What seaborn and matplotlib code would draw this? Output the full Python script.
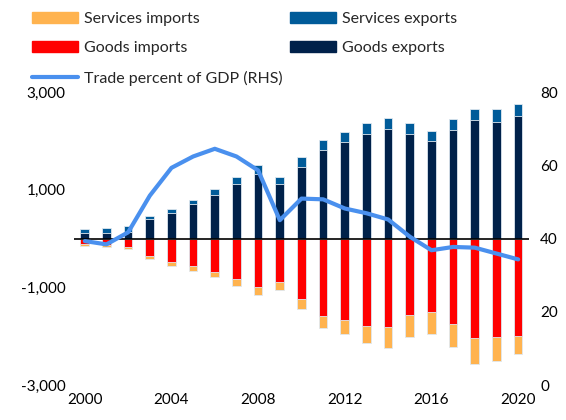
import numpy as np
import pandas as pd
import matplotlib
matplotlib.use("Agg")
import matplotlib.pyplot as plt
import seaborn as sns
from matplotlib.patches import Patch
from matplotlib.lines import Line2D

years = [str(y) for y in range(2000, 2021)]
goods_exports = [110, 123, 143, 397, 532, 704, 901, 1126, 1324, 1126, 1474,
                 1822, 1986, 2149, 2252, 2149, 2006, 2231, 2424, 2395, 2518]
services_exports = [82, 90, 117, 61, 82, 82, 110, 137, 178, 143, 198,
                    198, 198, 219, 219, 226, 205, 213, 237, 254, 229]
goods_imports = [-117, -137, -172, -356, -485, -567, -690, -833, -997, -895, -1243,
                 -1590, -1672, -1795, -1815, -1576, -1508, -1754, -2047, -2015, -2000]
services_imports = [-41, -35, -41, -62, -68, -88, -102, -130, -157, -157, -204,
                    -246, -280, -342, -437, -439, -451, -471, -532, -496, -375]
trade_pct_gdp = [39.3, 38.4, 41.7, 51.7, 59.3, 62.4, 64.5, 62.4, 58.6, 45.0, 50.9,
                 50.7, 48.2, 46.9, 45.2, 40.5, 36.8, 37.7, 37.5, 35.9, 34.3]

C_SERV_IMP = "#FFB34F"
C_GOODS_IMP = "#FF0000"
C_SERV_EXP = "#005B99"
C_GOODS_EXP = "#00214A"
C_LINE = "#4A90EE"

sns.set_theme(style="white")
plt.rcParams["font.family"] = ["Lato", "DejaVu Sans"]

df = pd.DataFrame({
    "year": years,
    "exp_total": np.array(goods_exports) + np.array(services_exports),
    "goods_exp": goods_exports,
    "imp_total": np.array(goods_imports) + np.array(services_imports),
    "goods_imp": goods_imports,
})

fig = plt.figure(figsize=(5.66, 4.2), dpi=100)
ax = fig.add_axes([0.1307, 0.0833, 0.8039, 0.6976])

# stacked bars: totals first, goods drawn over them
bar_kw = dict(width=0.4, edgecolor="#dfe8f0", linewidth=0.6, ax=ax)
sns.barplot(data=df, x="year", y="exp_total", color=C_SERV_EXP, saturation=1, **bar_kw)
sns.barplot(data=df, x="year", y="goods_exp", color=C_GOODS_EXP, saturation=1, **bar_kw)
sns.barplot(data=df, x="year", y="imp_total", color=C_SERV_IMP, saturation=1, **bar_kw)
sns.barplot(data=df, x="year", y="goods_imp", color=C_GOODS_IMP, saturation=1, **bar_kw)

ax.axhline(0, color="black", linewidth=1.2, zorder=3)
ax.set_xlim(-0.5, len(years) - 0.5)
ax.set_ylim(-3000, 3000)
ax.set_yticks([-3000, -1000, 1000, 3000])
ax.set_yticklabels([f"{v:,}" for v in [-3000, -1000, 1000, 3000]])
ax.set_xticks(range(0, len(years), 4))
ax.set_xticklabels(years[::4])
ax.set_xlabel("")
ax.set_ylabel("")
for s in ax.spines.values():
    s.set_visible(False)
ax.tick_params(axis="both", length=0, labelsize=11, colors="black", pad=6)

ax2 = ax.twinx()
sns.lineplot(x=np.arange(len(years)), y=trade_pct_gdp, ax=ax2, color=C_LINE,
             linewidth=3, solid_joinstyle="round", solid_capstyle="round")
ax2.set_ylim(0, 80)
ax2.set_yticks([0, 20, 40, 60, 80])
for s in ax2.spines.values():
    s.set_visible(False)
ax2.tick_params(axis="y", length=0, labelsize=11, colors="black", pad=8)
ax2.set_xlim(-0.5, len(years) - 0.5)

leg_kw = dict(loc="upper left", frameon=False, fontsize=11.5, handlelength=2.9,
              handleheight=0.7, labelspacing=0.95, handletextpad=0.35,
              borderpad=0, borderaxespad=0)
left_handles = [
    Patch(color=C_SERV_IMP, label="Services imports"),
    Patch(color=C_GOODS_IMP, label="Goods imports"),
    Line2D([], [], color=C_LINE, linewidth=3, label="Trade percent of GDP (RHS)"),
]
right_handles = [
    Patch(color=C_SERV_EXP, label="Services exports"),
    Patch(color=C_GOODS_EXP, label="Goods exports"),
]
fig.legend(handles=left_handles, bbox_to_anchor=(0.0565, 0.972), **leg_kw)
fig.legend(handles=right_handles, bbox_to_anchor=(0.512, 0.972), **leg_kw)

fig.savefig("out.png", dpi=100)
